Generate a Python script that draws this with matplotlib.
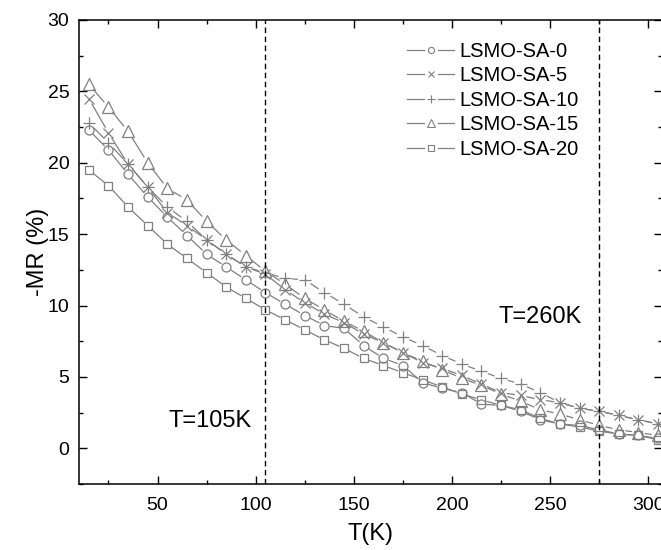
import matplotlib
matplotlib.use("Agg")
import matplotlib.pyplot as plt
from matplotlib.ticker import MultipleLocator
from matplotlib.lines import Line2D
from matplotlib.legend_handler import HandlerBase

plt.rcParams['font.family'] = ['Liberation Sans', 'DejaVu Sans']

T = [15, 25, 35, 45, 55, 65, 75, 85, 95, 105, 115, 125, 135, 145, 155,
     165, 175, 185, 195, 205, 215, 225, 235, 245, 255, 265, 275, 285, 295, 305]

sa0 = [22.3, 20.9, 19.2, 17.6, 16.2, 14.9, 13.6, 12.7, 11.8, 10.9, 10.1, 9.3, 8.6, 8.4, 7.2,
       6.3, 5.8, 4.6, 4.2, 3.9, 3.1, 3.0, 2.6, 2.0, 1.7, 1.6, 1.3, 1.0, 0.9, 0.7]
sa5 = [24.5, 22.1, 19.9, 18.3, 16.5, 15.6, 14.6, 13.6, 12.7, 12.2, 11.1, 10.2, 9.4, 8.8, 8.0,
       7.4, 6.7, 6.0, 5.6, 5.1, 4.5, 3.9, 3.7, 3.4, 3.2, 2.8, 2.6, 2.3, 2.0, 1.7]
sa10 = [22.8, 21.4, 19.9, 18.3, 16.9, 15.9, 14.6, 13.6, 12.7, 12.3, 11.9, 11.8, 10.9, 10.1, 9.2,
        8.5, 7.8, 7.2, 6.5, 5.9, 5.4, 4.9, 4.5, 3.9, 3.2, 2.8, 2.6, 2.3, 2.0, 1.7]
sa15 = [25.5, 23.9, 22.2, 20.0, 18.2, 17.4, 15.9, 14.6, 13.5, 12.4, 11.5, 10.5, 9.7, 8.9, 8.2,
        7.4, 6.7, 6.1, 5.5, 4.9, 4.4, 3.8, 3.3, 2.7, 2.4, 2.0, 1.6, 1.3, 1.1, 0.9]
sa20 = [19.5, 18.4, 16.9, 15.6, 14.3, 13.3, 12.3, 11.3, 10.5, 9.7, 9.0, 8.3, 7.6, 7.0, 6.3,
        5.8, 5.3, 4.8, 4.3, 3.8, 3.4, 3.0, 2.7, 2.1, 1.7, 1.5, 1.2, 1.0, 0.9, 0.6]

labels = ['LSMO-SA-0', 'LSMO-SA-5', 'LSMO-SA-10', 'LSMO-SA-15', 'LSMO-SA-20']
series = [sa0, sa5, sa10, sa15, sa20]
markers = ['o', 'x', '+', '^', 's']
msizes = [6.5, 7, 8.5, 8, 6]

vlines = [105, 275]

gray = '#808080'
LW = 0.9


class GapHandler(HandlerBase):
    def create_artists(self, legend, orig_handle, xdescent, ydescent,
                       width, height, fontsize, trans):
        y = height / 2 - ydescent
        x0 = -xdescent
        xc = x0 + width / 2
        gap = 0.3 * width
        l1 = Line2D([x0, xc - gap / 2], [y, y], color=gray, lw=LW)
        l2 = Line2D([xc + gap / 2, x0 + width], [y, y], color=gray, lw=LW)
        mk = Line2D([xc], [y], ls='none', marker=orig_handle.get_marker(),
                    ms=orig_handle.get_markersize() * 0.68, mfc='none',
                    mec=gray, mew=0.8)
        for a in (l1, l2, mk):
            a.set_transform(trans)
        return [l1, l2, mk]


fig = plt.figure(figsize=(6.61, 5.5), dpi=100)
ax = fig.add_axes([79/661, 66/550, (662-79)/661, (484-20)/550])

handles = []
for y, lab, m, ms in zip(series, labels, markers, msizes):
    # connecting segments with small gaps around markers
    for i in range(len(T) - 1):
        ax.annotate('', xy=(T[i + 1], y[i + 1]), xytext=(T[i], y[i]),
                    arrowprops=dict(arrowstyle='-', color=gray, lw=LW,
                                    shrinkA=ms * 0.5 + 1.0, shrinkB=ms * 0.5 + 1.0))
    h, = ax.plot(T, y, ls='none', marker=m, ms=ms, mfc='none',
                 mec=gray, mew=0.9, label=lab)
    handles.append(h)

for v in vlines:
    ax.axvline(v, color='black', lw=1.0, ls=(0, (4, 2.5)))

ax.set_xlim(10, 307)
ax.set_ylim(-2.5, 30)
ax.xaxis.set_major_locator(MultipleLocator(50))
ax.xaxis.set_minor_locator(MultipleLocator(25))
ax.yaxis.set_major_locator(MultipleLocator(5))
ax.yaxis.set_minor_locator(MultipleLocator(2.5))
ax.tick_params(which='both', direction='in', top=True, right=True, width=1.0)
ax.tick_params(which='major', length=5.5, labelsize=14, pad=7)
ax.tick_params(axis='x', which='major', pad=9)
ax.tick_params(which='minor', length=3)
for s in ax.spines.values():
    s.set_linewidth(1.1)

ax.set_xlabel('T(K)', fontsize=17, labelpad=7)
ax.set_ylabel('-MR (%)', fontsize=17, labelpad=-1)

ax.text(77, 1.9, 'T=105K', fontsize=17, ha='center', va='center')
ax.text(245, 9.2, 'T=260K', fontsize=17, ha='center', va='center')

leg = ax.legend(handles=handles, labels=labels, loc='upper left',
                bbox_to_anchor=(0.549, 0.97), frameon=False,
                fontsize=14.5, handlelength=2.35, handletextpad=0.25,
                labelspacing=0.27, borderaxespad=0,
                handler_map={Line2D: GapHandler()})

fig.savefig('out.png', dpi=100)
